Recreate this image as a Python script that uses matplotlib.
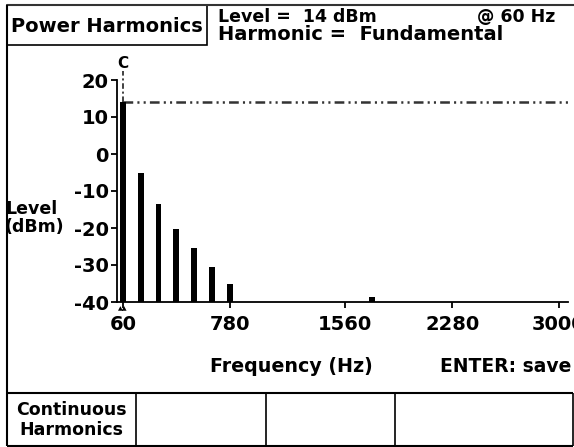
import matplotlib
matplotlib.use("Agg")
import matplotlib.pyplot as plt
from matplotlib.lines import Line2D
from matplotlib.patches import Rectangle

# harmonic spectrum
freqs = [60, 180, 300, 420, 540, 660, 780, 1740]
levels = [14, -5, -13.5, -20.3, -25.5, -30.5, -35, -38.7]
xticks = [60, 780, 1560, 2280, 3000]
yticks = [20, 10, 0, -10, -20, -30, -40]
softkeys = ["Continuous\nHarmonics", "", "", ""]

W, H = 574, 447
plt.rcParams['font.family'] = 'DejaVu Sans'
plt.rcParams['font.weight'] = 'bold'
plt.rcParams['lines.scale_dashes'] = False

fig = plt.figure(figsize=(W / 100, H / 100), dpi=100)

def fx(px):
    return px / W

def fy(py):
    return 1 - py / H

def ftext(x, y, s, **kw):
    kw.setdefault('fontsize', 14)
    kw.setdefault('va', 'center')
    fig.text(fx(x), fy(y), s, **kw)

def fline(xs, ys, lw=1.5, color='black'):
    fig.add_artist(Line2D([fx(v) for v in xs], [fy(v) for v in ys],
                          lw=lw, color=color, solid_capstyle='butt'))

# screen frame
fline([7, 574], [5, 5], color='#333333')
fline([7, 7], [5, 446])
fig.add_artist(Rectangle((fx(7), fy(45)), fx(207) - fx(7), fy(5) - fy(45),
                         fill=False, lw=1.2, edgecolor='black'))
ftext(11, 26, "Power Harmonics", fontsize=14)
ftext(218, 17, "Level =  14 dBm", fontsize=12.5)
ftext(477, 17, "@ 60 Hz", fontsize=12.5)
ftext(218, 34, "Harmonic =  Fundamental", fontsize=14)

# softkey row
fline([7, 573], [393, 393])
fline([7, 573], [446, 446])
for xk in [136, 266, 395, 573]:
    fline([xk, xk], [393, 446], lw=1.2)
key_x = [7, 136, 266, 395, 573]
for i, label in enumerate(softkeys):
    ftext((key_x[i] + key_x[i + 1]) / 2, 420, label, ha='center',
          linespacing=1.2, fontsize=12.5)

# spectrum axes
ax = fig.add_axes([fx(117), fy(302), fx(568) - fx(117), fy(80) - fy(302)])
ax.set_xlim(20, 3061)
ax.set_ylim(-40, 20)
ax.bar(freqs, [v + 40 for v in levels], bottom=-40, width=40,
       color='black', zorder=3)

# cursor on the fundamental
ax.plot([60, 3061], [levels[0], levels[0]], color='#333333', lw=1.8,
        linestyle=(0, (7, 3, 1.5, 3, 1.5, 3)), clip_on=False)
ax.plot([60, 60], [levels[0], 22.5], color='#333333', lw=1.3,
        linestyle=(0, (4, 2, 1.5, 2)), clip_on=False)
ax.text(60, 24.5, "C", ha='center', va='center', fontsize=11)
ax.annotate("▲▲", xy=(60, -40), xytext=(0, -5), textcoords='offset points',
            ha='center', va='center', fontsize=4.5)

for side in ['top', 'right']:
    ax.spines[side].set_visible(False)
for side in ['left', 'bottom']:
    ax.spines[side].set_linewidth(1.3)
ax.set_xticks(xticks)
ax.set_xticklabels([str(t) for t in xticks])
ax.set_yticks(yticks)
ax.set_yticklabels([str(t) for t in yticks])
ax.tick_params(axis='both', length=4, width=1.3, labelsize=14)
ax.tick_params(axis='x', pad=5)
ax.tick_params(axis='y', pad=2)

ftext(5, 218, "Level\n(dBm)", ha='left', linespacing=1.0, fontsize=12.5)
ftext(291, 367, "Frequency (Hz)", ha='center', fontsize=13.7)
ftext(440, 367, "ENTER: save", ha='left', fontsize=13.5)

fig.savefig("out.png", dpi=100)
